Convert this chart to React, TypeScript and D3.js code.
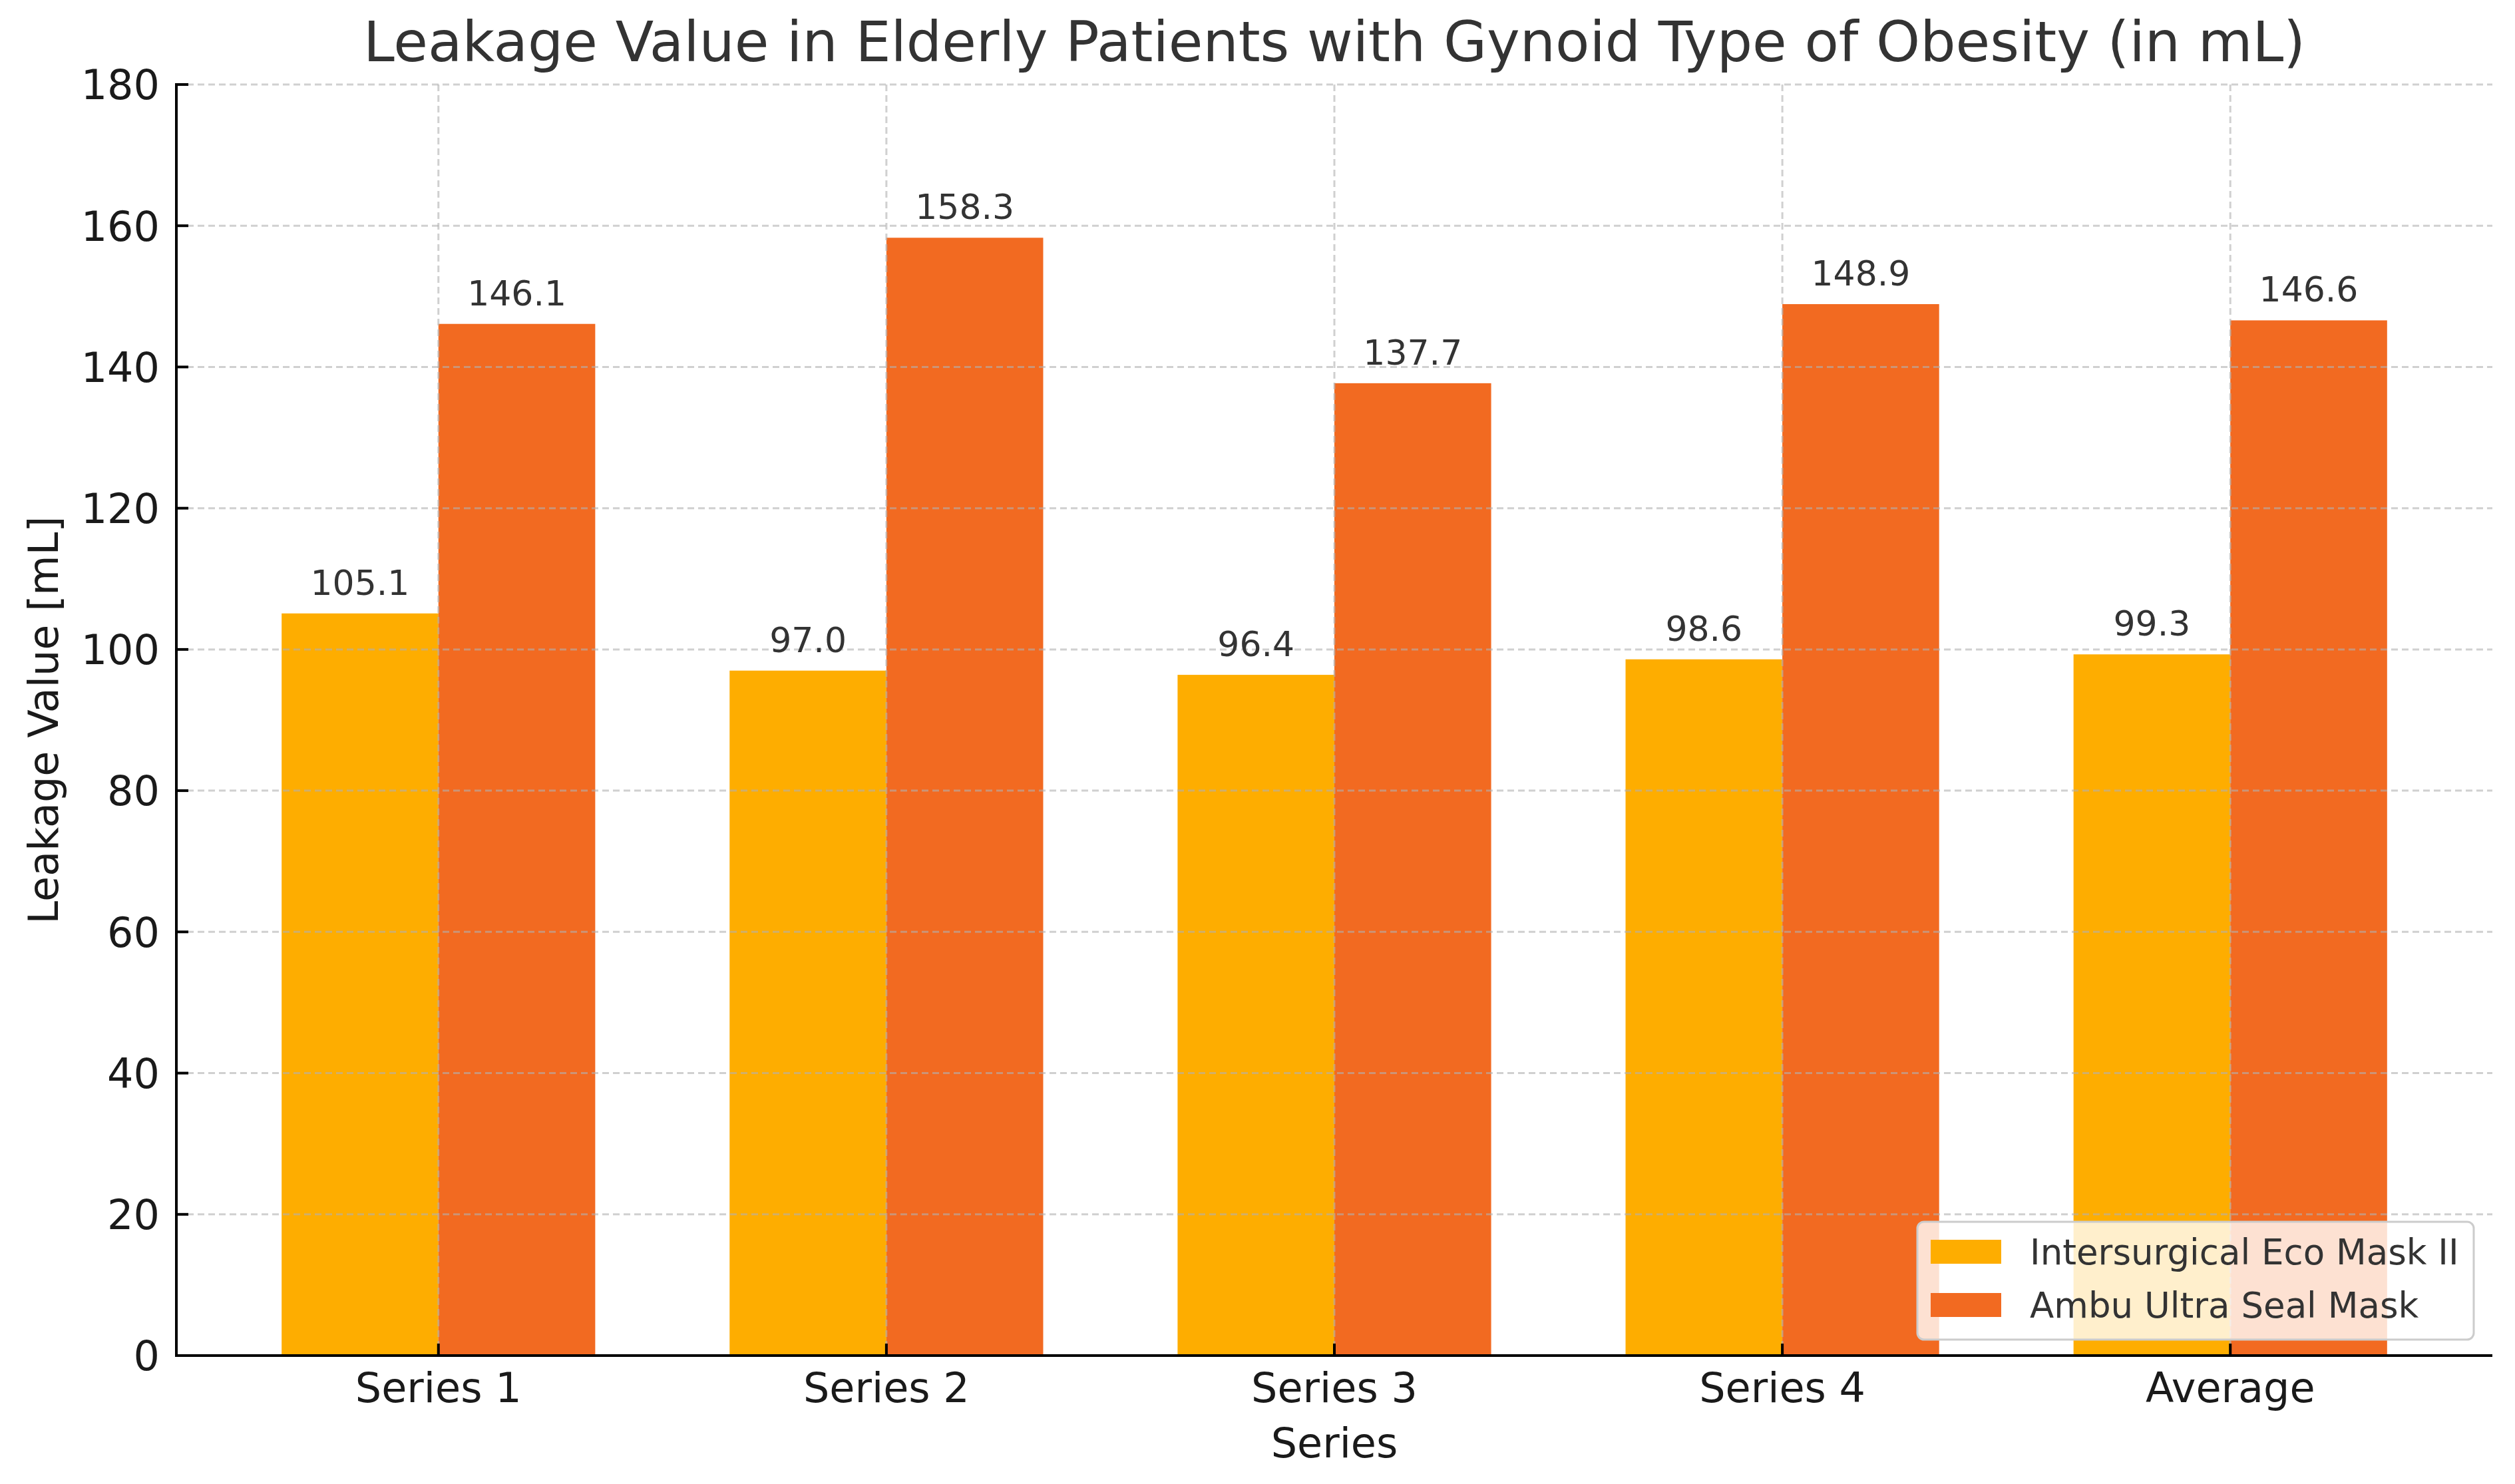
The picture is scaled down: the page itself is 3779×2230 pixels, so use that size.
import * as d3 from 'd3';

// ── Data ──────────────────────────────────────────────────────────────────────
const CATEGORIES = ['Series 1', 'Series 2', 'Series 3', 'Series 4', 'Average'];
const ECO_VALUES = [105.1, 97.0, 96.4, 98.6, 99.3];
const AMBU_VALUES = [146.1, 158.3, 137.7, 148.9, 146.6];
const SERIES_NAMES = ['Intersurgical Eco Mask II', 'Ambu Ultra Seal Mask'];
const Y_TICKS = [0, 20, 40, 60, 80, 100, 120, 140, 160, 180];

// ── Layout ────────────────────────────────────────────────────────────────────
const W = 3779;
const H = 2230;
const AX = { left: 265, right: 3745, top: 127, bottom: 2037 };
const BAR_W = 0.35;

// ── Colors ────────────────────────────────────────────────────────────────────
const YELLOW = '#FEAD00';
const ORANGE = '#F26A21';
const COLORS = [YELLOW, ORANGE];
const FONT = '"DejaVu Sans", Verdana, sans-serif';

export default function App() {
  const n = CATEGORIES.length;
  // matplotlib-style 5% margins around the bar extent
  const span = n - 1 + 2 * BAR_W;
  const x = d3.scaleLinear()
    .domain([-BAR_W - 0.05 * span, n - 1 + BAR_W + 0.05 * span])
    .range([AX.left, AX.right]);
  const y = d3.scaleLinear().domain([0, 180]).range([AX.bottom, AX.top]);

  const series = [ECO_VALUES, AMBU_VALUES];
  const cx = (AX.left + AX.right) / 2;
  const cy = (AX.top + AX.bottom) / 2;

  // Legend box
  const LG = { x: 2881, y: 1836, w: 836, h: 177 };

  return (
    <svg
      width={W}
      height={H}
      viewBox={`0 0 ${W} ${H}`}
      style={{ position: 'absolute', left: 0, top: 0, background: '#fff' }}
      fontFamily={FONT}
    >
      <rect x={0} y={0} width={W} height={H} fill="#fff" />

      {/* Title */}
      <text x={cx} y={92} textAnchor="middle" fontSize={84} fill="#333">
        Leakage Value in Elderly Patients with Gynoid Type of Obesity (in mL)
      </text>

      {/* Bars */}
      {series.map((vals, s) =>
        vals.map((v, i) => {
          const x0 = x(i + (s === 0 ? -BAR_W : 0));
          const x1 = x(i + (s === 0 ? 0 : BAR_W));
          return (
            <rect
              key={`${s}-${i}`}
              x={x0}
              y={y(v)}
              width={x1 - x0}
              height={y(0) - y(v)}
              fill={COLORS[s]}
            />
          );
        })
      )}

      {/* Grid (drawn over bars) */}
      {Y_TICKS.map(t => (
        <line
          key={`gy${t}`}
          x1={AX.left} x2={AX.right}
          y1={y(t)} y2={y(t)}
          stroke="#b0b0b0" strokeOpacity={0.6}
          strokeWidth={3} strokeDasharray="10,6"
        />
      ))}
      {CATEGORIES.map((c, i) => (
        <line
          key={`gx${c}`}
          x1={x(i)} x2={x(i)}
          y1={AX.top} y2={AX.bottom}
          stroke="#b0b0b0" strokeOpacity={0.6}
          strokeWidth={3} strokeDasharray="10,6"
        />
      ))}

      {/* Value labels */}
      {series.map((vals, s) =>
        vals.map((v, i) => {
          const mid = x(i + (s === 0 ? -BAR_W / 2 : BAR_W / 2));
          return (
            <text
              key={`l${s}-${i}`}
              x={mid}
              y={y(v) - 28}
              textAnchor="middle"
              fontSize={52}
              fill="#333"
            >
              {v.toFixed(1)}
            </text>
          );
        })
      )}

      {/* Y ticks + labels */}
      {Y_TICKS.map(t => (
        <g key={`ty${t}`}>
          <line x1={AX.left} x2={AX.left + 18} y1={y(t)} y2={y(t)} stroke="#000" strokeWidth={4} />
          <text x={240} y={y(t)} dy="0.36em" textAnchor="end" fontSize={62} fill="#1a1a1a">
            {t}
          </text>
        </g>
      ))}

      {/* X ticks + labels */}
      {CATEGORIES.map((c, i) => (
        <g key={`tx${c}`}>
          <line x1={x(i)} x2={x(i)} y1={AX.bottom} y2={AX.bottom - 18} stroke="#000" strokeWidth={4} />
          <text x={x(i)} y={2107} textAnchor="middle" fontSize={62} fill="#1a1a1a">
            {c}
          </text>
        </g>
      ))}

      {/* Spines */}
      <line x1={AX.left} x2={AX.left} y1={AX.top - 2} y2={AX.bottom + 2} stroke="#000" strokeWidth={4} />
      <line x1={AX.left - 2} x2={AX.right} y1={AX.bottom} y2={AX.bottom} stroke="#000" strokeWidth={4} />

      {/* Axis labels */}
      <text x={cx} y={2190} textAnchor="middle" fontSize={62} fill="#1a1a1a">
        Series
      </text>
      <text
        transform={`translate(87,${cy}) rotate(-90)`}
        textAnchor="middle"
        fontSize={62}
        fill="#1a1a1a"
      >
        Leakage Value [mL]
      </text>

      {/* Legend */}
      <rect
        x={LG.x} y={LG.y} width={LG.w} height={LG.h}
        rx={10} ry={10}
        fill="#fff" fillOpacity={0.8}
        stroke="#cccccc" strokeWidth={3}
      />
      {SERIES_NAMES.map((name, i) => (
        <g key={name} transform={`translate(2901, ${1863 + i * 80})`}>
          <rect x={0} y={0} width={106} height={36} fill={COLORS[i]} />
          <text x={149} y={18} dy="0.36em" fontSize={53} fill="#333">
            {name}
          </text>
        </g>
      ))}
    </svg>
  );
}
